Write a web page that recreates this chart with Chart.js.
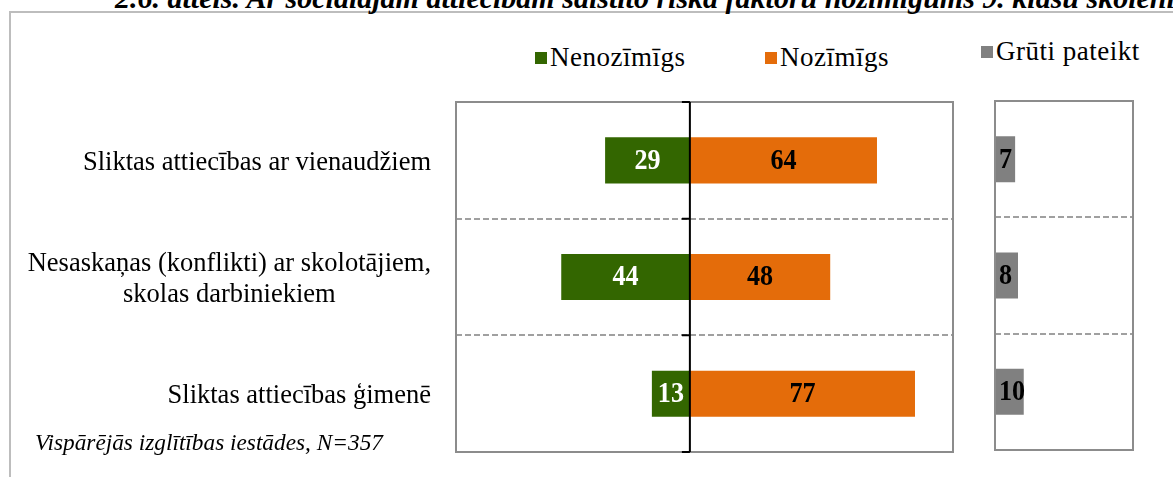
<!DOCTYPE html>
<html>
<head>
<meta charset="utf-8">
<script src="https://cdn.jsdelivr.net/npm/chart.js@4.4.0/dist/chart.umd.min.js"></script>
<style>
  body { margin: 0; background: #fff; width: 1173px; height: 477px; overflow: hidden; position: relative;
         font-family: "Liberation Serif", "Times New Roman", serif; color: #000; }
  .title { position: absolute; left: 115px; top: -17px; font: italic bold 30px/30px "Liberation Serif", serif; white-space: nowrap; }
  .frame { position: absolute; left: 9px; top: 11px; width: 1300px; height: 600px; border: 2px solid #bdbdbd; box-sizing: border-box; }
  #mainWrap { position: absolute; left: 0; top: 0; width: 980px; height: 477px; }
  #sideWrap { position: absolute; left: 980px; top: 0; width: 193px; height: 477px; }
  .lg-box { position: absolute; width: 12px; height: 12px; }
  .lg-text { position: absolute; font-size: 27px; line-height: 27px; letter-spacing: 0.5px; white-space: nowrap; }
  .note { position: absolute; left: 35px; top: 430px; font: italic 23.3px/24px "Liberation Serif", serif; white-space: nowrap; }
</style>
</head>
<body>
<div class="frame"></div>
<div class="title">2.6. attēls. Ar sociālajām attiecībām saistīto riska faktoru nozīmīgums 9. klašu skolēniem</div>
<div id="legend"></div>
<div id="mainWrap"><canvas id="mainChart"></canvas></div>
<div id="sideWrap"><canvas id="sideChart"></canvas></div>
<div class="note">Vispārējās izglītības iestādes, N=357</div>

<script>
// dati
const categories = [
  ['Sliktas attiecības ar vienaudžiem'],
  ['Nesaskaņas (konflikti) ar skolotājiem,', 'skolas darbiniekiem'],
  ['Sliktas attiecības ģimenē']
];
const nenozimigs = [29, 44, 13];
const nozimigs = [64, 48, 77];
const grutiPateikt = [7, 8, 10];
const seriesNames = ['Nenozīmīgs', 'Nozīmīgs', 'Grūti pateikt'];
const seriesColors = ['#336600', '#e46c0a', '#808080'];

const serif = '"Liberation Serif", "Times New Roman", serif';

// legenda
const legendPos = [[535, 52, 44], [765, 52, 44], [981, 46, 38]];
const legend = document.getElementById('legend');
seriesNames.forEach((name, i) => {
  const box = document.createElement('div');
  box.className = 'lg-box';
  box.style.left = legendPos[i][0] + 'px';
  box.style.top = legendPos[i][1] + 'px';
  box.style.background = seriesColors[i];
  const txt = document.createElement('div');
  txt.className = 'lg-text';
  txt.style.left = (legendPos[i][0] + 15) + 'px';
  txt.style.top = legendPos[i][2] + 'px';
  txt.textContent = name;
  legend.appendChild(box);
  legend.appendChild(txt);
});

// rāmis, nulles ass un vērtības
const panelPlugin = {
  id: 'panel',
  afterDatasetsDraw(chart, args, opts) {
    const {ctx, chartArea: a} = chart;
    const y = chart.scales.y;
    ctx.save();
    ctx.strokeStyle = '#8c8c8c';
    ctx.lineWidth = 2;
    ctx.strokeRect(a.left, a.top, a.right - a.left, a.bottom - a.top);

    if (opts.zeroLine) {
      const x0 = chart.scales.x.getPixelForValue(0);
      ctx.strokeStyle = '#000';
      ctx.lineWidth = 2;
      ctx.beginPath();
      ctx.moveTo(x0, a.top);
      ctx.lineTo(x0, a.bottom);
      const n = chart.data.labels.length;
      for (let i = 0; i <= n; i++) {
        let ty;
        if (i === 0) ty = a.top;
        else if (i === n) ty = a.bottom;
        else ty = (y.getPixelForValue(i - 1) + y.getPixelForValue(i)) / 2;
        ctx.moveTo(x0 - 8, ty);
        ctx.lineTo(x0, ty);
      }
      ctx.stroke();
    }

    // skaitļi ir šauri un augsti, tāpēc nedaudz saspiežam horizontāli
    const sx = 0.9;
    ctx.font = 'bold 29px ' + serif;
    ctx.textBaseline = 'middle';
    chart.data.datasets.forEach((ds, di) => {
      const meta = chart.getDatasetMeta(di);
      meta.data.forEach((bar, i) => {
        const v = String(Math.abs(ds.data[i]));
        let tx;
        ctx.fillStyle = ds.labelColor;
        if (opts.labelStart) {
          ctx.textAlign = 'left';
          tx = Math.min(bar.x, bar.base) + 4;
        } else {
          ctx.textAlign = 'center';
          tx = (bar.x + bar.base) / 2;
        }
        ctx.save();
        ctx.translate(tx, bar.y + 1);
        ctx.scale(sx, 1);
        ctx.fillText(v, 0, 0);
        ctx.restore();
      });
    });
    ctx.restore();
  }
};

// kategoriju nosaukumi
const categoryPlugin = {
  id: 'catLabels',
  afterDraw(chart) {
    const {ctx} = chart;
    const y = chart.scales.y;
    const rightX = 431;
    ctx.save();
    ctx.font = '26.5px ' + serif;
    ctx.fillStyle = '#000';
    ctx.textAlign = 'center';
    ctx.textBaseline = 'alphabetic';
    chart.data.labels.forEach((lines, i) => {
      const w = Math.max(...lines.map(l => ctx.measureText(l).width));
      const cx = rightX - w / 2;
      const cy = y.getPixelForValue(i);
      lines.forEach((l, k) => {
        ctx.fillText(l, cx, cy + 9.5 + (k - (lines.length - 1) / 2) * 31.6);
      });
    });
    ctx.restore();
  }
};

const yAxis = {
  type: 'category',
  stacked: true,
  offset: true,
  grid: { color: '#a0a0a0', lineWidth: 2, offset: true, drawTicks: false },
  border: { display: false, dash: [6, 3] },
  ticks: { display: false }
};

new Chart(document.getElementById('mainChart'), {
  type: 'bar',
  data: {
    labels: categories,
    datasets: [
      { label: seriesNames[0], data: nenozimigs.map(v => -v), backgroundColor: seriesColors[0], labelColor: '#fff',
        barPercentage: 0.395, categoryPercentage: 1 },
      { label: seriesNames[1], data: nozimigs, backgroundColor: seriesColors[1], labelColor: '#000',
        barPercentage: 0.395, categoryPercentage: 1 }
    ]
  },
  options: {
    indexAxis: 'y',
    responsive: true,
    maintainAspectRatio: false,
    animation: false,
    layout: { padding: { left: 456, right: 27, top: 102, bottom: 25 } },
    scales: {
      x: { stacked: true, min: -80, max: 90, display: false },
      y: yAxis
    },
    plugins: {
      legend: { display: false },
      tooltip: { enabled: false },
      panel: { zeroLine: true }
    }
  },
  plugins: [panelPlugin, categoryPlugin]
});

new Chart(document.getElementById('sideChart'), {
  type: 'bar',
  data: {
    labels: categories,
    datasets: [
      { label: seriesNames[2], data: grutiPateikt, backgroundColor: seriesColors[2], labelColor: '#000',
        barPercentage: 0.395, categoryPercentage: 1 }
    ]
  },
  options: {
    indexAxis: 'y',
    responsive: true,
    maintainAspectRatio: false,
    animation: false,
    layout: { padding: { left: 15, right: 40, top: 101, bottom: 27 } },
    scales: {
      x: { min: 0, max: 48, display: false },
      y: yAxis
    },
    plugins: {
      legend: { display: false },
      tooltip: { enabled: false },
      panel: { labelStart: true }
    }
  },
  plugins: [panelPlugin]
});
</script>
</body>
</html>
